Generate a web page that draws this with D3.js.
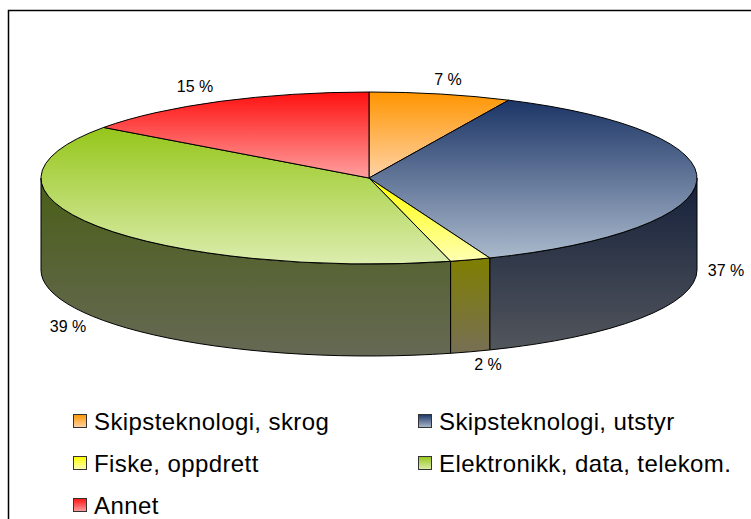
<!DOCTYPE html>
<html>
<head>
<meta charset="utf-8">
<script src="https://cdn.jsdelivr.net/npm/d3@7"></script>
<style>
  body { margin: 0; background: #fff; }
  text { font-family: "Liberation Sans", Arial, sans-serif; fill: #000; }
</style>
</head>
<body>
<div id="chart-div"></div>
<script>
var categories = ["Skipsteknologi, skrog", "Skipsteknologi, utstyr", "Fiske, oppdrett", "Elektronikk, data, telekom.", "Annet"];
var values = [7, 37, 2, 39, 15];
var labels = ["7 %", "37 %", "2 %", "39 %", "15 %"];
var topColors = [["#ff9500", "#ffd3a8"], ["#1c3566", "#aab9cc"], ["#ffff00", "#ffffb4"], ["#95c61a", "#dcedae"], ["#ff1010", "#ffa0a0"]];
var sideColors = [["#995a00", "#8a7560"], ["#141f3a", "#52565c"], ["#7f7f00", "#776f55"], ["#4a5e17", "#666955"], ["#991010", "#7a5555"]];
var legendOrder = [0, 1, 2, 3, 4];

var props = {
  width: 751,
  height: 519,
  cx: 369,
  cy: 178,
  rx: 328,
  ry: 86,
  depth: 92
}

var svg = d3.select("#chart-div").append("svg").attr("width", props.width).attr("height", props.height);
var defs = svg.append("defs");

function addGrad(id, c){
  var g = defs.append("linearGradient").attr("id", id).attr("x1", 0).attr("y1", 0).attr("x2", 0).attr("y2", 1);
  g.append("stop").attr("offset", "0%").attr("stop-color", c[0]);
  g.append("stop").attr("offset", "100%").attr("stop-color", c[1]);
}
topColors.forEach(function(c, i){ addGrad("top" + i, c); });
sideColors.forEach(function(c, i){ addGrad("side" + i, c); });

// chart frame (no right edge in the original)
svg.append("path")
  .attr("d", "M8.5,519 L8.5,10.5 L751,10.5")
  .style("fill", "none").style("stroke", "#000").style("stroke-width", 1.5);

var pieGenerator = d3.pie().value(function(d){ return d; }).sort(null);
var arcData = pieGenerator(values);

function px(t){ return props.cx + props.rx * Math.sin(t); }
function py(t){ return props.cy - props.ry * Math.cos(t); }

function topPath(d){
  var a0 = d.startAngle, a1 = d.endAngle;
  var large = (a1 - a0) > Math.PI ? 1 : 0;
  return "M" + props.cx + "," + props.cy +
    "L" + px(a0) + "," + py(a0) +
    "A" + props.rx + "," + props.ry + " 0 " + large + " 1 " + px(a1) + "," + py(a1) + "Z";
}

function sidePath(a0, a1){
  var h = props.depth;
  return "M" + px(a0) + "," + py(a0) +
    "A" + props.rx + "," + props.ry + " 0 0 1 " + px(a1) + "," + py(a1) +
    "L" + px(a1) + "," + (py(a1) + h) +
    "A" + props.rx + "," + props.ry + " 0 0 0 " + px(a0) + "," + (py(a0) + h) + "Z";
}

var g = svg.append("g");

// front walls, only the part facing the viewer (between 3 and 9 o'clock)
var sides = [];
arcData.forEach(function(d, i){
  var a0 = Math.max(d.startAngle, Math.PI / 2);
  var a1 = Math.min(d.endAngle, 3 * Math.PI / 2);
  if (a1 > a0) sides.push({i: i, a0: a0, a1: a1});
});

g.selectAll(".side")
  .data(sides)
  .enter()
  .append("path")
  .attr("class", "side")
  .attr("d", function(d){ return sidePath(d.a0, d.a1); })
  .style("fill", function(d){ return "url(#side" + d.i + ")"; })
  .style("stroke", "#000")
  .style("stroke-width", 1)
  .style("stroke-linejoin", "round");

g.selectAll(".slice")
  .data(arcData)
  .enter()
  .append("path")
  .attr("class", "slice")
  .attr("d", topPath)
  .style("fill", function(d, i){ return "url(#top" + i + ")"; })
  .style("stroke", "#000")
  .style("stroke-width", 1)
  .style("stroke-linejoin", "round");

// percentage labels
var labelPos = [[448, 79], [726, 270], [488, 364], [68, 326], [195, 86]];
svg.selectAll(".pct")
  .data(labels)
  .enter()
  .append("text")
  .attr("class", "pct")
  .attr("x", function(d, i){ return labelPos[i][0]; })
  .attr("y", function(d, i){ return labelPos[i][1]; })
  .attr("dy", "0.35em")
  .attr("text-anchor", "middle")
  .style("font-size", "16px")
  .text(function(d){ return d; });

// legend
var legend = svg.selectAll(".legend")
  .data(legendOrder)
  .enter()
  .append("g")
  .attr("class", "legend")
  .attr("transform", function(d, i){
    return "translate(" + (i % 2 === 0 ? 73 : 418) + "," + (414 + Math.floor(i / 2) * 42) + ")";
  });

legend.append("rect")
  .attr("x", 0.5).attr("y", 0.5)
  .attr("width", 13).attr("height", 13)
  .style("fill", function(d){ return "url(#top" + d + ")"; })
  .style("stroke", "#333")
  .style("stroke-width", 1);

legend.append("text")
  .attr("x", 21)
  .attr("y", 7.5)
  .attr("dy", "0.35em")
  .style("font-size", "24px")
  .style("letter-spacing", "0.4px")
  .text(function(d){ return categories[d]; });
</script>
</body>
</html>
